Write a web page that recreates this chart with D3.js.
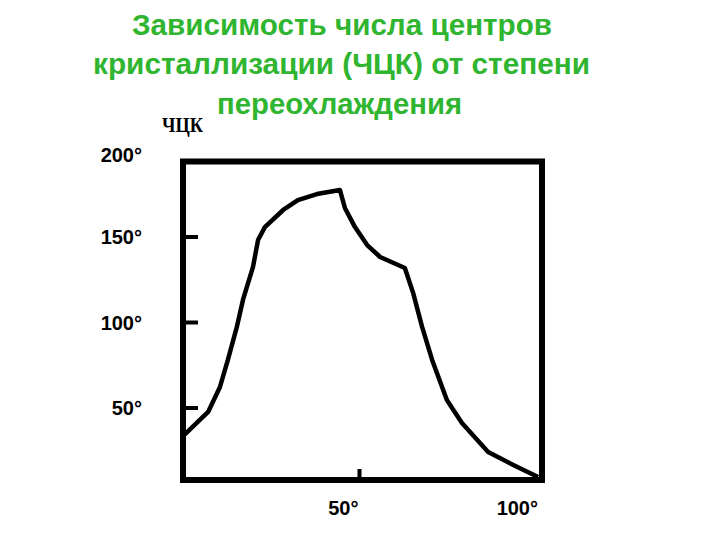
<!DOCTYPE html>
<html>
<head>
<meta charset="utf-8">
<script src="https://cdn.jsdelivr.net/npm/d3@7"></script>
<style>
  html, body { margin: 0; padding: 0; background: #ffffff; }
  svg { display: block; }
</style>
</head>
<body>
<svg id="chart" width="720" height="540"></svg>
<script>
// ---- data ----
const titleLines = ["Зависимость числа центров", "кристаллизации (ЧЦК) от степени", "переохлаждения"];
const yAxisTitle = "ЧЦК";
const undercooling = [0, 7, 10.3, 12.5, 15, 16.7, 19.5, 20.9, 22.8, 27.9, 32, 37.3, 43.7, 45.1, 47.9, 51.3, 54.9, 61.8, 64.1, 66.6, 69.4, 73.5, 77.7, 85, 92, 98.9];
const nucleiCount  = [33.6, 47.7, 62.3, 78.1, 97.4, 113.2, 132.5, 148.2, 155.8, 165.8, 171.6, 175.1, 177.5, 167, 155.8, 145.3, 138.3, 131.9, 117.3, 97.4, 78.1, 54.7, 41.2, 24.3, 16.7, 9.6];
const yTickLabels = [200, 150, 100, 50];
const yTickMarks = [150, 100, 50];
const xTickLabels = [50, 100];
const xTickMarks = [50];

// ---- layout ----
const svg = d3.select("#chart");
const frame = { left: 183, right: 542, top: 161.5, bottom: 480 };
const x = d3.scaleLinear().domain([0, 100]).range([frame.left, frame.right]);
const y = d3.scaleLinear().domain([50, 150]).range([408, 237]);

const green = "#2fb52f";

// title
const titleBaselines = [35, 74, 114];
const titleWidths = [420, 497, 245];
const titleCenters = [342, 341.5, 339.5];
svg.selectAll("text.title").data(titleLines).enter().append("text")
  .attr("class", "title")
  .attr("x", (d, i) => titleCenters[i])
  .attr("y", (d, i) => titleBaselines[i])
  .attr("text-anchor", "middle")
  .attr("font-family", "'Liberation Sans', Arial, sans-serif")
  .attr("font-weight", "bold")
  .attr("font-size", 29)
  .attr("fill", green)
  .attr("textLength", (d, i) => titleWidths[i])
  .attr("lengthAdjust", "spacingAndGlyphs")
  .text(d => d);

// y axis title
svg.append("text")
  .attr("x", 162).attr("y", 132)
  .attr("font-family", "'Liberation Serif', 'Times New Roman', serif")
  .attr("font-weight", "bold")
  .attr("font-size", 20)
  .attr("fill", "#000")
  .attr("textLength", 41)
  .attr("lengthAdjust", "spacingAndGlyphs")
  .text(yAxisTitle);

// frame
svg.append("rect")
  .attr("x", frame.left).attr("y", frame.top)
  .attr("width", frame.right - frame.left)
  .attr("height", frame.bottom - frame.top)
  .attr("fill", "none")
  .attr("stroke", "#000")
  .attr("stroke-width", 6);

// y tick marks
svg.selectAll("line.ytick").data(yTickMarks).enter().append("line")
  .attr("x1", frame.left).attr("x2", frame.left + 15)
  .attr("y1", d => y(d)).attr("y2", d => y(d))
  .attr("stroke", "#000").attr("stroke-width", 4);

// x tick marks
svg.selectAll("line.xtick").data(xTickMarks).enter().append("line")
  .attr("x1", d => x(d) - 3).attr("x2", d => x(d) - 3)
  .attr("y1", frame.bottom).attr("y2", frame.bottom - 11)
  .attr("stroke", "#000").attr("stroke-width", 4);

const labelFont = "'Liberation Sans', Arial, sans-serif";
// y tick labels
svg.selectAll("text.ylab").data(yTickLabels).enter().append("text")
  .attr("x", 142)
  .attr("y", d => y(d) + (d === 200 ? 3.5 : 0))
  .attr("dy", "0.36em")
  .attr("text-anchor", "end")
  .attr("font-family", labelFont)
  .attr("font-weight", "bold")
  .attr("font-size", 20)
  .attr("fill", "#000")
  .text(d => d + "°");

// x tick labels
svg.selectAll("text.xlab").data(xTickLabels).enter().append("text")
  .attr("x", d => x(d) - 4)
  .attr("y", 515)
  .attr("text-anchor", "end")
  .attr("font-family", labelFont)
  .attr("font-weight", "bold")
  .attr("font-size", 20)
  .attr("fill", "#000")
  .text(d => d + "°");

// curve
const pts = undercooling.map((u, i) => [u, nucleiCount[i]]);
const line = d3.line().x(d => x(d[0])).y(d => y(d[1]));
svg.append("path")
  .attr("d", line(pts))
  .attr("fill", "none")
  .attr("stroke", "#000")
  .attr("stroke-width", 4.5)
  .attr("stroke-linejoin", "round");
</script>
</body>
</html>
